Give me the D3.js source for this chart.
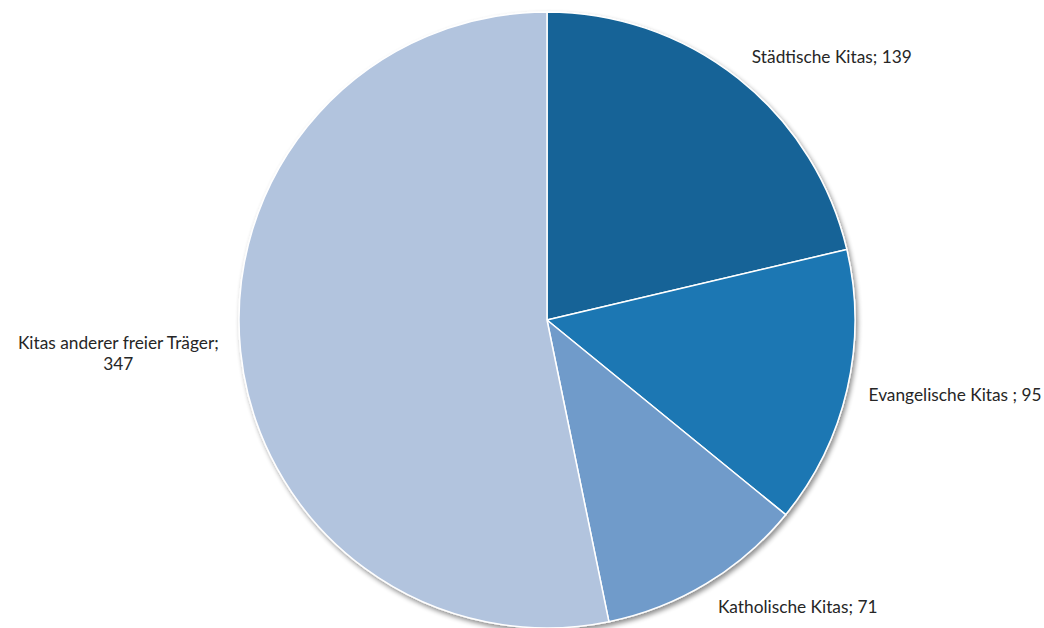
<!DOCTYPE html>
<html>
<head>
<meta charset="utf-8">
<script src="https://cdn.jsdelivr.net/npm/d3@7"></script>
<style>
  html, body { margin: 0; padding: 0; background: #ffffff; }
  svg { display: block; }
  .lbl { font-family: Lato, "Open Sans", sans-serif; font-size: 17.3px; fill: #262626; }
</style>
</head>
<body>
<svg id="chart" width="1044" height="628"></svg>
<script>
// Kitas nach Träger
const categories = ["Städtische Kitas", "Evangelische Kitas ", "Katholische Kitas", "Kitas anderer freier Träger"];
const values = [139, 95, 71, 347];
const colors = ["#136497", "#1b77b3", "#6f9bca", "#b2c4de"];
// label lines as shown next to each slice
const labelLines = [
  ["Städtische Kitas; 139"],
  ["Evangelische Kitas ; 95"],
  ["Katholische Kitas; 71"],
  ["Kitas anderer freier Träger;", "347"]
];

const W = 1044, H = 628;
const cx = 547, cy = 320, R = 308;

const svg = d3.select("#chart");

const defs = svg.append("defs");
const shadow = defs.append("filter").attr("id", "pieShadow")
  .attr("x", "-10%").attr("y", "-10%").attr("width", "120%").attr("height", "120%");
shadow.append("feGaussianBlur").attr("in", "SourceAlpha").attr("stdDeviation", 2.5).attr("result", "b");
shadow.append("feOffset").attr("in", "b").attr("dx", 2).attr("dy", 3).attr("result", "o");
shadow.append("feComponentTransfer").attr("in", "o").attr("result", "s")
  .append("feFuncA").attr("type", "linear").attr("slope", 0.45);
const merge = shadow.append("feMerge");
merge.append("feMergeNode").attr("in", "s");
merge.append("feMergeNode").attr("in", "SourceGraphic");

const pie = d3.pie().sort(null).value(d => d)(values);
const arc = d3.arc().innerRadius(0).outerRadius(R);

const g = svg.append("g").attr("transform", `translate(${cx},${cy})`);

g.append("g").attr("filter", "url(#pieShadow)")
  .selectAll("path").data(pie).join("path")
  .attr("d", arc)
  .attr("fill", (d, i) => colors[i])
  .attr("stroke", "#ffffff")
  .attr("stroke-width", 1.5)
  .attr("stroke-linejoin", "round");

// labels outside each slice, at the slice's mid angle
const offX = R + 22, offY = R + 28;
const lineH = 21;
pie.forEach((d, i) => {
  const mid = (d.startAngle + d.endAngle) / 2;
  const x = Math.sin(mid) * offX;
  const y = -Math.cos(mid) * offY;
  const right = Math.sin(mid) >= 0;
  const lines = labelLines[i];
  const t = g.append("text").attr("class", "lbl")
    .attr("y", y - (lines.length - 1) * lineH / 2);
  lines.forEach((s, k) => {
    t.append("tspan").attr("x", x).attr("dy", k === 0 ? "0.35em" : lineH).text(s);
  });
  if (lines.length > 1) {
    // multi-line label: block aligned to the anchor point, lines centred in the block
    t.attr("text-anchor", "middle");
    const w = t.node().getBBox().width;
    const bx = right ? x + w / 2 : x - w / 2;
    t.selectAll("tspan").attr("x", bx);
  } else {
    t.attr("text-anchor", right ? "start" : "end");
  }
});
</script>
</body>
</html>
